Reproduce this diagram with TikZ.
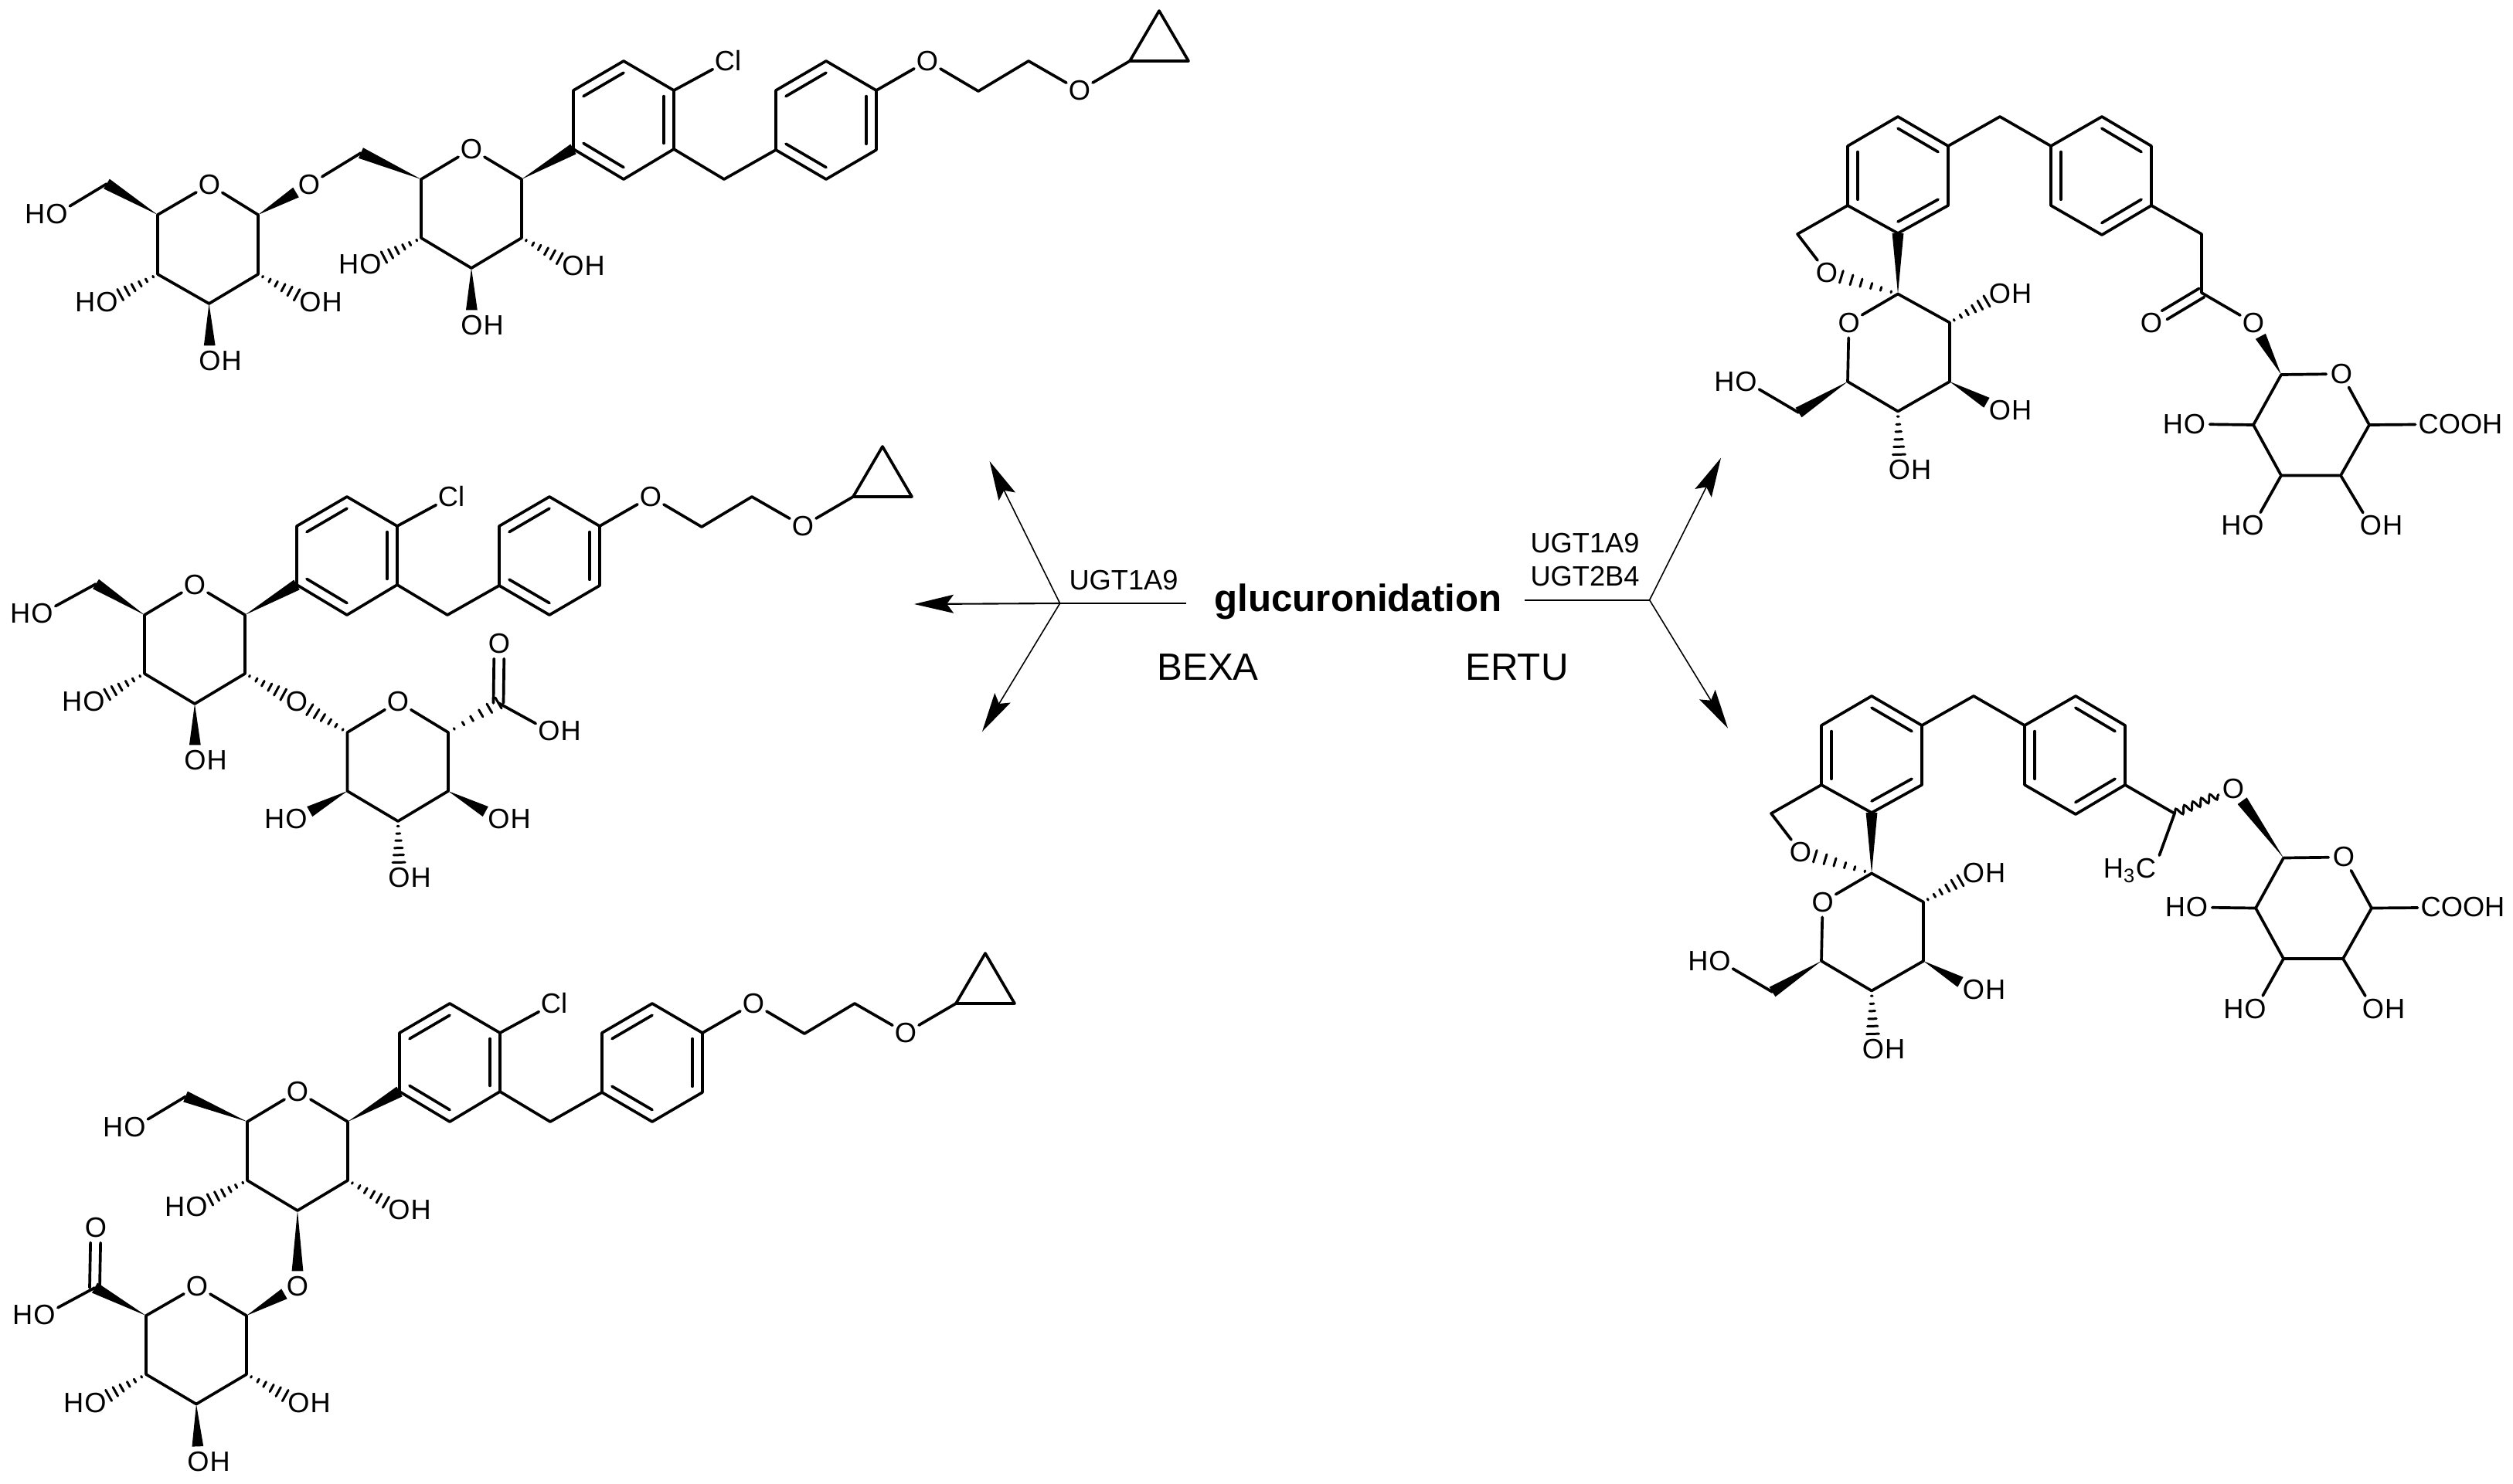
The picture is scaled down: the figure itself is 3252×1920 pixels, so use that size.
\documentclass[tikz,border=0pt]{standalone}
\usepackage{fontspec}
\setmainfont{Liberation Sans}
\usetikzlibrary{arrows.meta, calc, decorations.pathmorphing}
\newcommand{\atomfont}{\fontsize{10.3}{12}\selectfont}
\newcommand{\wedgebond}[2]{%
  \path (#1) -- (#2) coordinate[pos=0] (ws) coordinate[pos=1] (we);
  \fill (ws) -- ($(we)!2.1pt!90:(ws)$) -- ($(we)!2.1pt!-90:(ws)$) -- cycle;}
\newcommand{\hashbond}[2]{%
  \path (#1) -- (#2) coordinate[pos=0] (hs) coordinate[pos=1] (he);
  \foreach \t in {.12,.3,.47,.65,.82,1} {
    \coordinate (hp) at ($(hs)!\t!(he)$);
    \draw[bond, line width=0.85pt] ($(hp)!{\t*2.3pt}!90:(hs)$) -- ($(hp)!{\t*2.3pt}!-90:(hs)$);
  }}
\newcommand{\doublebond}[2]{%
  \path (#1) -- (#2) coordinate[pos=0] (ds) coordinate[pos=1] (de);
  \draw[bond] ($(ds)!1.85pt!90:(de)$) -- ($(de)!1.85pt!-90:(ds)$);
  \draw[bond] ($(ds)!1.85pt!-90:(de)$) -- ($(de)!1.85pt!90:(ds)$);}
% outline, then inner lines on 1-2, 3-4, 5-6
\newcommand{\arene}[7]{%
  \draw[bond] (#1) -- (#2) -- (#3) -- (#4) -- (#5) -- (#6) -- cycle;
  \draw[bond] ($(#1)!.2!(#7)$) -- ($(#2)!.2!(#7)$);
  \draw[bond] ($(#3)!.2!(#7)$) -- ($(#4)!.2!(#7)$);
  \draw[bond] ($(#5)!.2!(#7)$) -- ($(#6)!.2!(#7)$);}
% aglycone shared by the three bexagliflozin products
\newcommand{\bexaarm}[3]{%
  \begin{scope}[shift={(#2,#3)}]
    \foreach \n/\x/\y in {a1/742/193, a2/742/117, a3/807/79, a4/872/117, a5/872/193, a6/807/232, ac/807/155,
        c7/937/232, b1/1004/194, b2/1004/117, b3/1069/79, b4/1134/117, b5/1134/194, b6/1069/232, bc/1069/155,
        e1/1266/118, e2/1331/79, p1/1462/79, p2/1500/14, p3/1538/79,
        s1/675/232, s2/675/308, s3/610/347, s4/545/308, s5/545/232}
      \coordinate (#1\n) at (\x,\y);
    \node[atom] (#1cl) at (942,79) {Cl};
    \node[atom] (#1o1) at (1200,79) {O};
    \node[atom] (#1o2) at (1397,117) {O};
    \node[atom] (#1so) at (610,193) {O};
  \end{scope}
  \arene{#1a2}{#1a3}{#1a4}{#1a5}{#1a6}{#1a1}{#1ac}
  \arene{#1b2}{#1b3}{#1b4}{#1b5}{#1b6}{#1b1}{#1bc}
  \draw[bond] (#1a4) -- (#1cl);
  \draw[bond] (#1a5) -- (#1c7) -- (#1b1);
  \draw[bond] (#1b4) -- (#1o1) -- (#1e1) -- (#1e2) -- (#1o2) -- (#1p1);
  \draw[bond] (#1p1) -- (#1p2) -- (#1p3) -- cycle;
  \draw[bond] (#1s1) -- (#1s2) -- (#1s3) -- (#1s4) -- (#1s5) -- (#1so) -- (#1s1);
  \wedgebond{#1s1}{#1a1}}
% aglycone shared by the two ertugliflozin products
\newcommand{\ertuarm}[3]{%
  \begin{scope}[shift={(#2,#3)}]
    \foreach \n/\x/\y in {a1/2456/151, a2/2521/189, a3/2521/266, a4/2456/302, a5/2391/266, a6/2391/189, ac/2456/227,
        c7/2588/151, b1/2654/189, b2/2720/151, b3/2784/189, b4/2784/266, b5/2720/304, b6/2654/266, bc/2719/227,
        c5/2326/303, sp/2456/380.5, s2/2523/417.6, s3/2523/494, s4/2456/532.5, s5/2391/494, c6/2327.5/534}
      \coordinate (#1\n) at (\x,\y);
    \node[atom] (#1ob) at (2364,352.6) {O};
    \node[atom] (#1so) at (2392.6,417.6) {O};
    \node[atom, hright] (#1oh2) at (2588,380) {O};
    \node[atom, hright] (#1oh3) at (2588,531) {O};
    \node[atom, hright] (#1oh4) at (2458,608) {O};
    \node[atom, hleft] (#1oh6) at (2259.5,494) {O};
  \end{scope}
  \arene{#1a1}{#1a2}{#1a3}{#1a4}{#1a5}{#1a6}{#1ac}
  \arene{#1b2}{#1b3}{#1b4}{#1b5}{#1b6}{#1b1}{#1bc}
  \draw[bond] (#1a2) -- (#1c7) -- (#1b1);
  \draw[bond] (#1a5) -- (#1c5) -- (#1ob);
  \draw[bond] (#1so) -- (#1sp) -- (#1s2) -- (#1s3) -- (#1s4) -- (#1s5) -- (#1so);
  \wedgebond{#1sp}{#1a4}
  \hashbond{#1sp}{#1ob}
  \hashbond{#1s2}{#1oh2}
  \wedgebond{#1s3}{#1oh3}
  \hashbond{#1s4}{#1oh4}
  \wedgebond{#1s5}{#1c6}
  \draw[bond] (#1c6) -- (#1oh6);}
% glucuronic acid drawn flat, on the ertugliflozin side
\newcommand{\glucacid}[3]{%
  \begin{scope}[shift={(#2,#3)}]
    \foreach \n/\x/\y in {g1/2952/485, g2/2916/550, g3/2952/615.5, g4/3029/615.5, g5/3066/550}
      \coordinate (#1\n) at (\x,\y);
    \node[atom] (#1go) at (3030,484) {O};
    \node[group] (#1cooh) at (3184,549) {COOH};
    \node[atom, hleft] (#1oh7) at (2840,549) {O};
    \node[atom, hleft] (#1oh8) at (2915.5,680.5) {O};
    \node[atom, hright] (#1oh9) at (3068,680.5) {O};
  \end{scope}
  \draw[bond] (#1g1) -- (#1go) -- (#1g5) -- (#1g4) -- (#1g3) -- (#1g2) -- (#1g1);
  \draw[bond] (#1g5) -- (#1cooh);
  \draw[bond] (#1g2) -- (#1oh7);
  \draw[bond] (#1g3) -- (#1oh8);
  \draw[bond] (#1g4) -- (#1oh9);}
\begin{document}
\begin{tikzpicture}[x=0.01cm, y=-0.01cm,
    atom/.style={circle, inner sep=0pt, font=\atomfont},
    group/.style={rectangle, inner sep=1pt, font=\atomfont},
    hleft/.style={label={[label distance=-1.5pt, inner sep=0pt, font=\atomfont]left:H}},
    hright/.style={label={[label distance=-1.5pt, inner sep=0pt, font=\atomfont]right:H}},
    bond/.style={line width=1.05pt, line cap=round, line join=round},
    rxnline/.style={line width=0.45pt},
    rxn/.style={rxnline, -{Stealth[length=14.5pt, width=6.8pt, inset=2.5pt]}},
    caption/.style={font=\fontsize{14}{16}\selectfont, anchor=base, inner sep=0pt},
    enzyme/.style={font=\atomfont, anchor=base, inner sep=0pt}
  ]
  \useasboundingbox (0,0) rectangle (3252,1920);

  % top left, glucoside
  \bexaarm{m1}{0}{0}
  \coordinate (m1c6) at (467,198);
  \foreach \n/\x/\y in {g1/334/278, g2/334/355, g3/270.5/393, g4/204/355, g5/204/278, g6/138/238}
    \coordinate (m1\n) at (\x,\y);
  \node[atom] (m1o6) at (400,239) {O};
  \node[atom] (m1go) at (271,239) {O};
  \node[atom, hleft] (m1oh1) at (73.5,277) {O};
  \node[atom, hleft] (m1oh2) at (138.5,391) {O};
  \node[atom, hright] (m1oh3) at (401.5,391) {O};
  \node[atom, hright] (m1oh4) at (271.5,467) {O};
  \node[atom, hleft] (m1oh5) at (479.5,342) {O};
  \node[atom, hright] (m1oh6) at (741.5,344) {O};
  \node[atom, hright] (m1oh7) at (610.5,421) {O};
  \wedgebond{m1s5}{m1c6}
  \draw[bond] (m1c6) -- (m1o6);
  \wedgebond{m1g1}{m1o6}
  \draw[bond] (m1g1) -- (m1g2) -- (m1g3) -- (m1g4) -- (m1g5) -- (m1go) -- (m1g1);
  \wedgebond{m1g5}{m1g6}
  \draw[bond] (m1g6) -- (m1oh1);
  \hashbond{m1g4}{m1oh2}
  \hashbond{m1g2}{m1oh3}
  \wedgebond{m1g3}{m1oh4}
  \hashbond{m1s4}{m1oh5}
  \hashbond{m1s2}{m1oh6}
  \wedgebond{m1s3}{m1oh7}

  % middle left, 2-O-glucuronide
  \bexaarm{m2}{-358}{564}
  \foreach \n/\x/\y in {c6/124/756, g1/449.5/948, g2/449.5/1024, g3/515/1063, g4/580/1024, g5/580/948, c7/645/910}
    \coordinate (m2\n) at (\x,\y);
  \node[atom] (m2o2) at (384,908.5) {O};
  \node[atom] (m2go) at (515,908.5) {O};
  \node[atom] (m2od) at (646,833) {O};
  \node[atom, hleft] (m2oh1) at (54.5,794) {O};
  \node[atom, hleft] (m2oh2) at (121.5,908.5) {O};
  \node[atom, hright] (m2oh3) at (252.5,984) {O};
  \node[atom, hright] (m2oh4) at (710.5,946) {O};
  \node[atom, hleft] (m2oh5) at (383.5,1060) {O};
  \node[atom, hright] (m2oh6) at (645.5,1060) {O};
  \node[atom, hright] (m2oh7) at (516.5,1136) {O};
  \wedgebond{m2s5}{m2c6}
  \draw[bond] (m2c6) -- (m2oh1);
  \hashbond{m2s4}{m2oh2}
  \wedgebond{m2s3}{m2oh3}
  \hashbond{m2s2}{m2o2}
  \hashbond{m2g1}{m2o2}
  \draw[bond] (m2g1) -- (m2g2) -- (m2g3) -- (m2g4) -- (m2g5) -- (m2go) -- (m2g1);
  \hashbond{m2g5}{m2c7}
  \doublebond{m2c7}{m2od}
  \draw[bond] (m2c7) -- (m2oh4);
  \wedgebond{m2g2}{m2oh5}
  \wedgebond{m2g4}{m2oh6}
  \hashbond{m2g3}{m2oh7}

  % bottom left, 3-O-glucuronide
  \bexaarm{m3}{-225}{1220}
  \foreach \n/\x/\y in {c6/240/1419.5, g1/319/1703, g2/319/1779, g3/254/1817.5, g4/189/1779, g5/189/1703, c7/122.5/1667}
    \coordinate (m3\n) at (\x,\y);
  \node[atom] (m3o3) at (385,1665) {O};
  \node[atom] (m3go) at (255,1665) {O};
  \node[atom] (m3od) at (124,1589) {O};
  \node[atom, hleft] (m3oh1) at (174.5,1459) {O};
  \node[atom, hleft] (m3oh2) at (254.5,1562) {O};
  \node[atom, hright] (m3oh3) at (516.5,1566) {O};
  \node[atom, hleft] (m3oh4) at (57.5,1702) {O};
  \node[atom, hleft] (m3oh5) at (123.5,1816) {O};
  \node[atom, hright] (m3oh6) at (386.5,1816) {O};
  \node[atom, hright] (m3oh7) at (256.5,1892) {O};
  \wedgebond{m3s5}{m3c6}
  \draw[bond] (m3c6) -- (m3oh1);
  \hashbond{m3s4}{m3oh2}
  \hashbond{m3s2}{m3oh3}
  \wedgebond{m3s3}{m3o3}
  \wedgebond{m3g1}{m3o3}
  \draw[bond] (m3g1) -- (m3g2) -- (m3g3) -- (m3g4) -- (m3g5) -- (m3go) -- (m3g1);
  \wedgebond{m3g5}{m3c7}
  \doublebond{m3c7}{m3od}
  \draw[bond] (m3c7) -- (m3oh4);
  \hashbond{m3g4}{m3oh5}
  \hashbond{m3g2}{m3oh6}
  \wedgebond{m3g3}{m3oh7}

  % top right, ester
  \ertuarm{m4}{0}{0}
  \glucacid{m4}{0}{0}
  \coordinate (m4c8) at (2849,303);
  \coordinate (m4c9) at (2849,379);
  \node[atom] (m4od) at (2784,418) {O};
  \node[atom] (m4oe) at (2916,418) {O};
  \draw[bond] (m4b4) -- (m4c8) -- (m4c9) -- (m4oe);
  \doublebond{m4c9}{m4od}
  \wedgebond{m4g1}{m4oe}

  % bottom right, ether
  \ertuarm{m5}{-34}{750}
  \glucacid{m5}{3}{625.5}
  \coordinate (m5c8) at (2814,1053);
  \node[atom] (m5oe) at (2890,1020.7) {O};
  \node[group] (m5me) at (2756,1127) {H\textsubscript{3}C};
  \draw[bond] (m5b4) -- (m5c8) -- (m5me.north east);
  \draw[line width=0.85pt, decorate, decoration={snake, segment length=3.4pt, amplitude=1.4pt}] (m5c8) -- (m5oe);
  \wedgebond{m5g1}{m5oe}

  % centre
  \node[caption, font=\fontsize{14}{16}\selectfont\bfseries] (gluc) at (1757.5,791) {glucuronidation};
  \node[caption] (bexa) at (1563,880) {BEXA};
  \node[caption] (ertu) at (1963,880) {ERTU};
  \node[enzyme] (ugtl) at (1454,763) {UGT1A9};
  \node[enzyme] (ugtra) at (2051,715) {UGT1A9};
  \node[enzyme] (ugtrb) at (2051,758) {UGT2B4};

  \coordinate (lstart) at (1535,781);
  \coordinate (lhub) at (1371.6,781);
  \coordinate (ltipa) at (1280.6,597);
  \coordinate (ltipb) at (1183,782);
  \coordinate (ltipc) at (1271,947);
  \coordinate (rstart) at (1973,776.7);
  \coordinate (rhub) at (2134.6,776.7);
  \coordinate (rtipa) at (2227,592.7);
  \coordinate (rtipb) at (2236,942.7);
  \draw[rxnline] (lstart) -- (lhub);
  \draw[rxn] (lhub) -- (ltipa);
  \draw[rxn, line width=0.6pt] (lhub) -- (ltipb);
  \draw[rxn] (lhub) -- (ltipc);
  \draw[rxnline, line width=0.6pt] (rstart) -- (rhub);
  \draw[rxn] (rhub) -- (rtipa);
  \draw[rxn] (rhub) -- (rtipb);
\end{tikzpicture}
\end{document}
